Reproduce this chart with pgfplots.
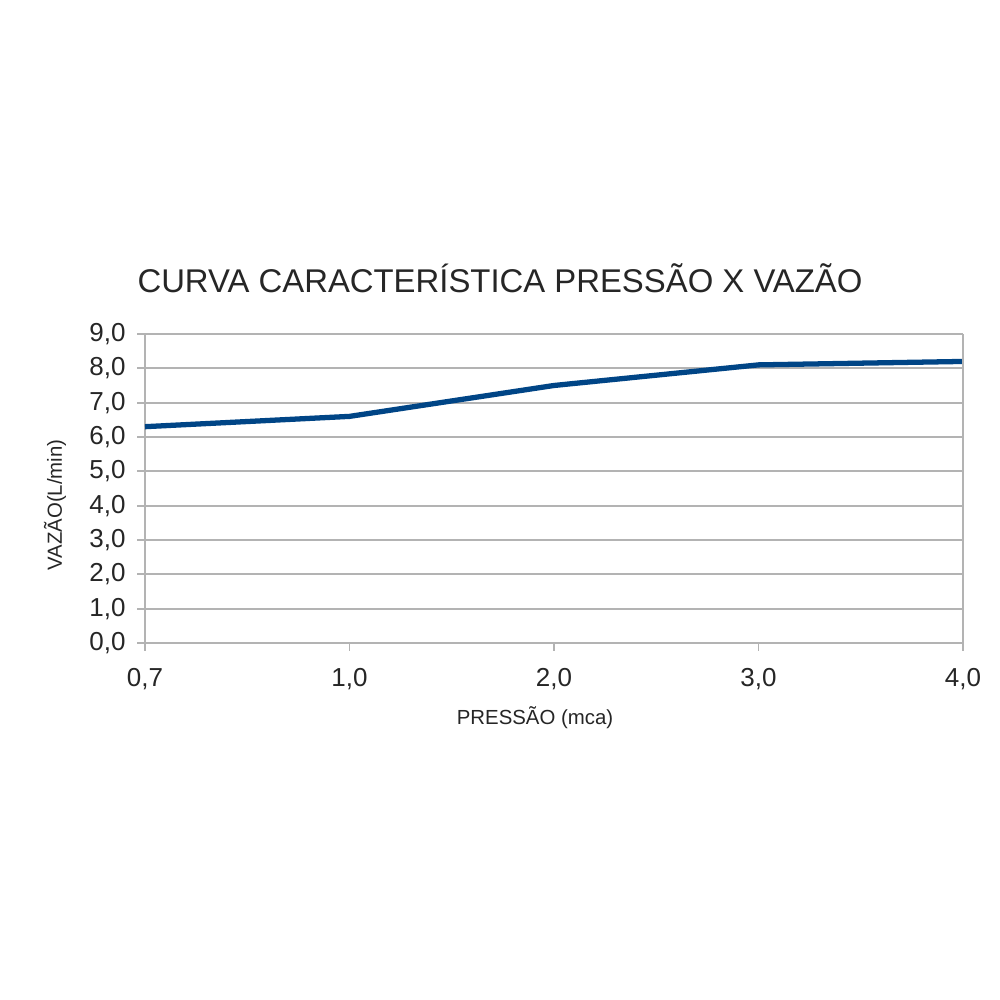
\documentclass[border=0pt]{standalone}
\usepackage{pgfplots}
\pgfplotsset{compat=1.18}
\usepackage{fontspec}
\setmainfont{Liberation Sans}
\definecolor{lineblue}{HTML}{004586}
\definecolor{gridgray}{HTML}{B3B3B3}

\begin{document}
\begin{tikzpicture}
  \path[use as bounding box, fill=white] (0,0) rectangle (10cm,10cm);

  \begin{axis}[
      at={(1.45cm,3.57cm)}, anchor=south west,
      scale only axis,
      width=8.18cm, height=3.09cm,
      xmin=0, xmax=4, ymin=0, ymax=9,
      xtick={0,1,2,3,4},
      xticklabels={{0,7},{1,0},{2,0},{3,0},{4,0}},
      ytick={0,1,...,9},
      yticklabel={\pgfmathprintnumber[fixed,fixed zerofill,precision=1,use comma]{\tick}},
      /pgf/number format/assume math mode=true,
      ticklabel style={font=\fontsize{7.4}{8}\selectfont, text=black!85},
      xticklabel style={yshift=-0.05cm},
      yticklabel style={xshift=0.01cm},
      tick align=outside,
      major tick length=0.08cm,
      tick style={gridgray, line width=0.5pt},
      axis x line*=bottom,
      axis y line*=left,
      axis line style={gridgray, line width=0.6pt},
      ymajorgrids,
      grid style={gridgray, line width=0.6pt},
      clip=false,
    ]
    \addplot[lineblue, line width=1.5pt, line join=round] coordinates {
      (0,6.3) (1,6.6) (2,7.5) (3,8.1) (4,8.2)
    };
    \draw[gridgray, line width=0.6pt] (axis cs:4,0) -- (axis cs:4,9);
  \end{axis}

  \node[anchor=base, font=\fontsize{9.35}{11}\selectfont, text=black!85] at (5.0cm,7.07cm)
    {CURVA CARACTERÍSTICA PRESSÃO X VAZÃO};
  \node[font=\fontsize{5.8}{7}\selectfont, text=black!85] at (5.35cm,2.82cm)
    {PRESSÃO (mca)};
  \node[rotate=90, font=\fontsize{5.8}{7}\selectfont, text=black!85] at (0.55cm,4.95cm)
    {VAZÃO(L/min)};
\end{tikzpicture}
\end{document}
